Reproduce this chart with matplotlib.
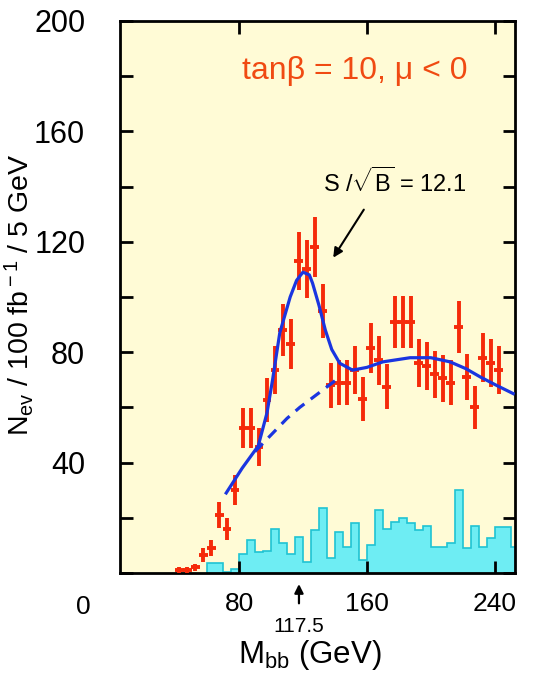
import numpy as np
import matplotlib
matplotlib.use("Agg")
import matplotlib.pyplot as plt

plt.rcParams['font.family'] = ['Liberation Sans', 'DejaVu Sans']
plt.rcParams['mathtext.fontset'] = 'custom'
plt.rcParams['mathtext.rm'] = 'Liberation Sans'
plt.rcParams['mathtext.it'] = 'Liberation Sans'
plt.rcParams['mathtext.sf'] = 'Liberation Sans'

# simulated data points (bin centres in GeV, events per 5 GeV)
mbb = [42.5, 47.5, 52.5, 57.5, 62.5, 67.5, 72.5, 77.5, 82.5, 87.5,
       92.5, 97.5, 102.5, 107.5, 112.5, 117.5, 122.5, 127.5, 132.5, 137.5,
       142.5, 147.5, 152.5, 157.5, 162.5, 167.5, 172.5, 177.5, 182.5, 187.5,
       192.5, 197.5, 202.5, 207.5, 212.5, 217.5, 222.5, 227.5, 232.5, 237.5,
       242.5]
n_ev = [1, 1, 2, 6.5, 9, 21, 16, 30, 52.5, 52.5,
        45.7, 62.7, 73.5, 88, 83, 113, 110, 118, 95, 68,
        69, 69, 73.5, 63, 81.5, 77, 67.5, 91, 91, 91,
        76, 75, 72, 70.5, 69, 89, 71, 60, 78, 76,
        73.5]
n_err = np.sqrt(n_ev)  # poisson errors

# fitted signal + background (solid) and background only (dashed)
fit_x = [72, 82, 92, 97.5, 101, 105.5, 112, 116, 120, 124, 126, 130, 134, 138,
         143, 151, 160, 170, 187, 200, 212, 222, 231, 241, 251.5]
fit_y = [29, 38, 46, 58, 70, 87, 100, 106, 109, 108, 105, 97, 88, 81,
         76, 73.5, 74.5, 76.5, 78, 78, 76.5, 74, 71, 68, 65]
bkg_x = [90, 100, 110, 118, 126, 134, 142]
bkg_y = [44, 50, 56, 60, 63.5, 67, 70.5]

# cyan histogram (5 GeV bins starting at 60 GeV)
hist_edges = list(range(60, 260, 5))
hist_vals = [3.5, 3.5, 0.5, 1.5, 7, 12, 7.6, 8, 16, 11,
             7, 13, 4, 15.5, 23.5, 5.4, 15, 9.4, 18, 4.7,
             10, 23, 16, 18.5, 20, 18, 15.6, 17, 9.5, 9.5,
             11, 30, 9, 17, 9.5, 12.7, 16.7, 16.7, 9.5]

red = '#f52a0a'
blue = '#1a35e0'

fig = plt.figure(figsize=(5.5, 6.73), dpi=100)
ax = fig.add_axes([0.218, 0.1486, 0.718, 0.8202])
ax.set_facecolor('#fffbd6')

ax.stairs(hist_vals, hist_edges, fill=True, facecolor='#6eedf3',
          edgecolor='#1fc3d3', linewidth=1.2, zorder=1)

ax.errorbar(mbb, n_ev, yerr=n_err, xerr=2.8, fmt='none', ecolor=red,
            elinewidth=2.8, capsize=0, zorder=3)

ax.plot(fit_x, fit_y, color=blue, linewidth=2.3, zorder=4)
ax.plot(bkg_x, bkg_y, color=blue, linewidth=2.3, linestyle=(0, (3.5, 2.5)), zorder=4)

ax.set_xlim(5.5, 252.5)
ax.set_ylim(0, 200)

ax.set_xticks([80, 160, 240])
ax.set_yticks([40, 80, 120, 160, 200])
ax.set_yticks(np.arange(0, 201, 20), minor=True)
ax.tick_params(axis='both', which='both', direction='in', top=True, right=True,
               length=9, width=2)
ax.tick_params(axis='x', labelsize=19, pad=14)
ax.tick_params(axis='y', labelsize=22, pad=25)
for s in ax.spines.values():
    s.set_linewidth(2)

# the "0" of the mass axis sits left of the frame in the original
ax.text(-17.5, -0.04, '0', transform=ax.get_xaxis_transform(), ha='center',
        va='top', fontsize=19, clip_on=False)

ax.text(152.5, 182, r'tanβ = 10, μ < 0', color='#f04a12', fontsize=23,
        ha='center', va='center')
ax.text(177.5, 141.5, r'S /$\sqrt{\rm B}$ = 12.1', fontsize=17,
        ha='center', va='center')
ax.annotate('', xy=(138, 113.4), xytext=(159, 132.5),
            arrowprops=dict(arrowstyle='-|>', color='black', lw=1.5,
                            mutation_scale=14))

# mark of the higgs mass below the axis
ax.annotate('', xy=(117.5, -3), xytext=(117.5, -12), xycoords='data',
            annotation_clip=False,
            arrowprops=dict(arrowstyle='-|>', color='black', lw=1.6,
                            mutation_scale=13))
ax.text(117.5, -19.5, '117.5', fontsize=15, ha='center', va='center',
        clip_on=False)

fig.text(0.564, 0.027, r'M$_{\rm bb}$ (GeV)', fontsize=22.5, ha='center',
         va='center')
fig.text(0.035, 0.562, r'N$_{\rm ev}$ / 100 fb$^{\rm -1}$ / 5 GeV', fontsize=20.5,
         rotation=90, ha='center', va='center')

fig.savefig('out.png', dpi=100)
